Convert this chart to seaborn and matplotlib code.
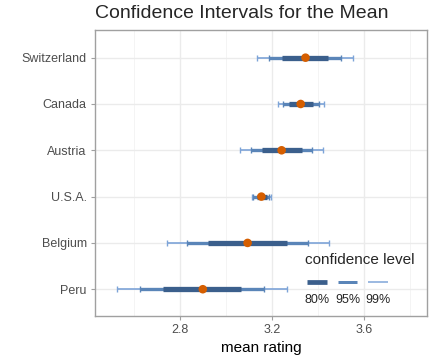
import numpy as np
import pandas as pd
import seaborn as sns
import matplotlib.pyplot as plt
from matplotlib.lines import Line2D

countries = ['Switzerland', 'Canada', 'Austria', 'U.S.A.', 'Belgium', 'Peru']
mean_rating = [3.346, 3.325, 3.242, 3.154, 3.094, 2.899]
lo80 = [3.245, 3.275, 3.157, 3.133, 2.923, 2.726]
hi80 = [3.446, 3.377, 3.329, 3.177, 3.265, 3.067]
lo95 = [3.188, 3.249, 3.109, 3.119, 2.830, 2.627]
hi95 = [3.500, 3.403, 3.375, 3.187, 3.358, 3.164]
lo99 = [3.136, 3.227, 3.062, 3.113, 2.742, 2.527]
hi99 = [3.553, 3.427, 3.423, 3.196, 3.449, 3.267]
levels = ['80%', '95%', '99%']

df = pd.DataFrame({'country': countries, 'mean': mean_rating,
                   'lo80': lo80, 'hi80': hi80, 'lo95': lo95, 'hi95': hi95,
                   'lo99': lo99, 'hi99': hi99})
df['y'] = np.arange(len(df))

sns.set_theme(style='whitegrid')
plt.rcParams['font.family'] = ['Liberation Sans', 'DejaVu Sans']

fig = plt.figure(figsize=(4.32, 3.6), dpi=100)
ax = fig.add_axes([0.22, 0.122, 0.768, 0.795])

cols = {'80%': '#3b5f8c', '95%': '#5a85b8', '99%': '#7da4d8'}
widths = {'80%': 3.8, '95%': 2.4, '99%': 1.2}
caps = {'80%': 0, '95%': 2.5, '99%': 2.5}

for lev in ['99%', '95%', '80%']:
    k = lev[:2]
    lo = df['lo' + k]
    hi = df['hi' + k]
    ax.errorbar(df['mean'], df['y'], xerr=[df['mean'] - lo, hi - df['mean']],
                fmt='none', ecolor=cols[lev], elinewidth=widths[lev],
                capsize=caps[lev], capthick=1.0, zorder=3)

sns.scatterplot(data=df, x='mean', y='y', color='#d55e00', s=38,
                edgecolor='none', zorder=5, ax=ax, legend=False)

ax.set_xlim(2.43, 3.874)
ax.set_ylim(len(df) - 0.42, -0.6)
ax.set_yticks(df['y'])
ax.set_yticklabels(countries)
ax.set_xticks([2.8, 3.2, 3.6])
ax.set_xticklabels(['2.8', '3.2', '3.6'])
ax.set_xticks([2.6, 3.0, 3.4, 3.8], minor=True)

ax.set_facecolor('white')
ax.grid(which='major', color='#ebebeb', linewidth=1.0)
ax.grid(which='minor', axis='x', color='#f2f2f2', linewidth=0.6)
for s in ax.spines.values():
    s.set_color('#a0a0a0')
    s.set_linewidth(1.0)
ax.tick_params(axis='both', which='major', length=3, width=0.8, color='#a0a0a0',
               labelsize=9, labelcolor='#4d4d4d', pad=3)
ax.tick_params(axis='x', which='minor', length=0)
ax.tick_params(left=True, bottom=True)

ax.set_xlabel('mean rating', fontsize=11, color='black', labelpad=3)
ax.set_ylabel('')
fig.text(0.22, 0.9625, 'Confidence Intervals for the Mean', fontsize=14,
         ha='left', va='center')

# legend drawn by hand (keys above labels, like ggplot)
ax.text(0.633, 0.196, 'confidence level', transform=ax.transAxes,
        fontsize=11, ha='left', va='center')
key_x = [(0.639, 0.699), (0.733, 0.791), (0.823, 0.883)]
for (x0, x1), lev in zip(key_x, levels):
    ax.add_line(Line2D([x0, x1], [0.12, 0.12], transform=ax.transAxes,
                       color=cols[lev], linewidth=widths[lev] * 0.9,
                       solid_capstyle='butt', zorder=6))
    ax.text((x0 + x1) / 2, 0.056, lev, transform=ax.transAxes,
            fontsize=9, ha='center', va='center')

fig.savefig('out.png', dpi=100)
